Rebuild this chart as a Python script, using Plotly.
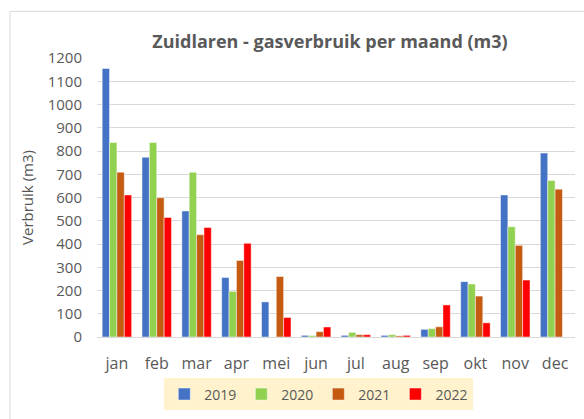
import plotly.graph_objects as go

months = ["jan", "feb", "mar", "apr", "mei", "jun", "jul", "aug", "sep", "okt", "nov", "dec"]
y2019 = [1155, 773, 542, 256, 151, 7, 7, 7, 33, 238, 611, 791]
y2020 = [837, 837, 709, 196, 0, 6, 20, 10, 36, 228, 474, 673]
y2021 = [709, 599, 440, 329, 260, 23, 10, 5, 44, 176, 394, 636]
y2022 = [611, 514, 471, 403, 84, 43, 10, 7, 138, 61, 245, None]
series = [("2019", y2019, "#4472C4"), ("2020", y2020, "#92D050"),
          ("2021", y2021, "#C55A11"), ("2022", y2022, "#FF0000")]
yticks = list(range(0, 1201, 100))

FONT = "Open Sans"
GRAY = "#595959"

fig = go.Figure()
for name, vals, col in series:
    fig.add_trace(go.Bar(x=months, y=vals, name=name, marker_color=col,
                         marker_line=dict(color="rgba(255,255,255,0.6)", width=0.8)))

fig.update_layout(
    width=584, height=419,
    margin=dict(l=97, r=9, t=58, b=80),
    paper_bgcolor="white", plot_bgcolor="white",
    barmode="group", bargap=0.26, bargroupgap=0.0,
    font=dict(family=FONT, color=GRAY),
    title=dict(text="<b>Zuidlaren - gasverbruik per maand (m3)</b>",
               x=0.565, xanchor="center", y=0.9, yanchor="middle",
               font=dict(size=18, color=GRAY, family=FONT)),
    legend=dict(orientation="h", x=0.464, xanchor="center", y=-0.206, yanchor="middle",
                bgcolor="#FFF2CC", font=dict(size=14, color=GRAY),
                itemwidth=30, traceorder="normal"),
    showlegend=True,
)
fig.update_yaxes(range=[0, 1200], tickvals=yticks, showgrid=True, gridcolor="#D9D9D9",
                 gridwidth=1, zeroline=False, showline=False,
                 tickfont=dict(size=15, color=GRAY), ticklabelstandoff=14,
                 title=dict(text="Verbruik (m3)", font=dict(size=15, color="#555555"), standoff=10))
fig.update_xaxes(showline=True, linecolor="#D9D9D9", linewidth=1, ticks="",
                 tickfont=dict(size=16, color=GRAY), ticklabelstandoff=12)

fig.add_shape(type="rect", xref="paper", yref="paper",
              x0=(10 - 97) / 478, x1=1.2, y0=-0.6, y1=(339 - 11) / 281,
              line=dict(color="#D9D9D9", width=1), fillcolor="rgba(0,0,0,0)", layer="below")

fig.write_html("out.html", config={"displayModeBar": False},
               post_script="document.body.style.margin='0';document.body.style.overflow='hidden';")
